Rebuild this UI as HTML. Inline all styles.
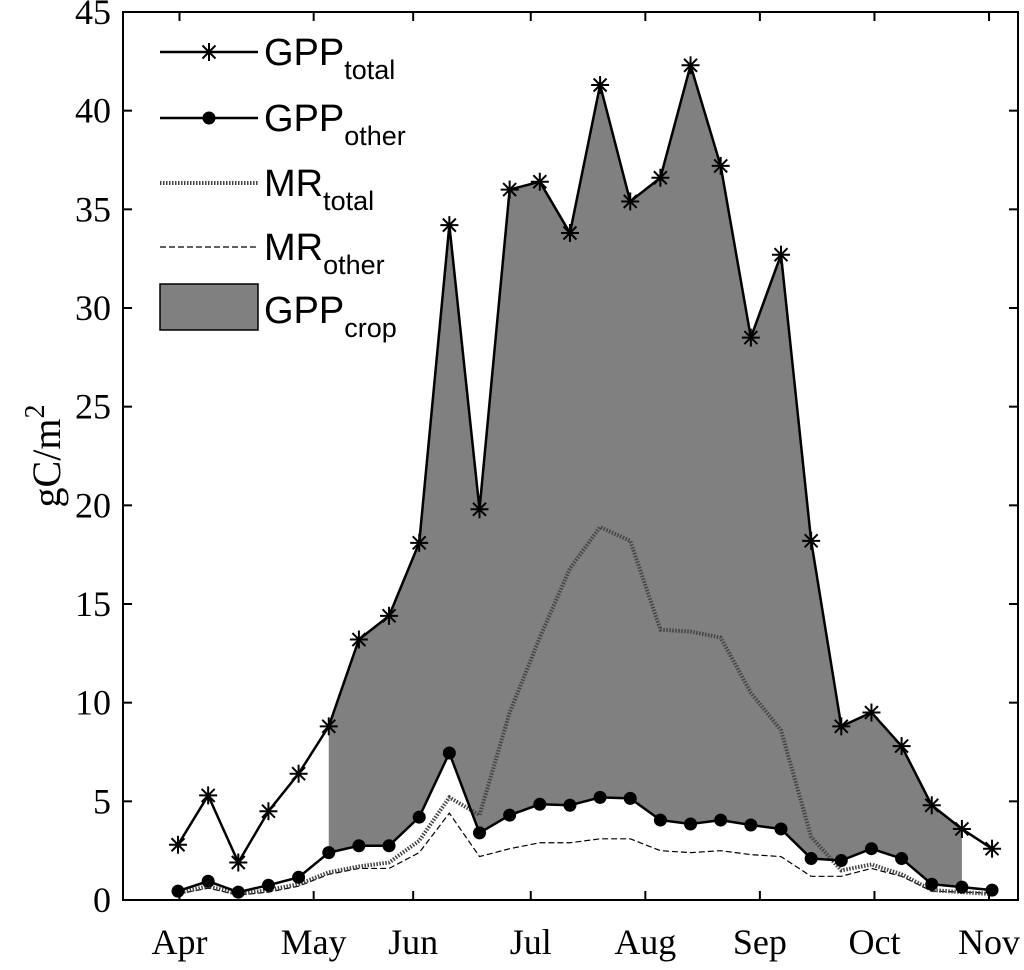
<!DOCTYPE html>
<html><head><meta charset="utf-8"><style>
body{margin:0;background:#fff}
svg text{font-family:"Liberation Serif",serif;fill:#000}
</style></head><body>
<svg id="chart" width="1024" height="965" xmlns="http://www.w3.org/2000/svg">
</svg>
<script>
const months=["Apr","May","Jun","Jul","Aug","Sep","Oct","Nov"];
const monthPos=[0.05,4.5,7.8,11.7,15.5,19.3,23.1,26.9];
const yTicks=[0,5,10,15,20,25,30,35,40,45];
const gppTotal=[2.8,5.3,1.9,4.5,6.4,8.8,13.2,14.4,18.1,34.2,19.8,36.0,36.4,33.8,41.3,35.4,36.6,42.3,37.2,28.5,32.7,18.2,8.8,9.5,7.8,4.8,3.6,2.6];
const gppOther=[0.45,0.95,0.4,0.75,1.15,2.4,2.75,2.75,4.2,7.45,3.4,4.3,4.85,4.8,5.2,5.15,4.05,3.85,4.05,3.8,3.6,2.1,2.0,2.6,2.1,0.8,0.65,0.5];
const mrTotal=[0.35,0.7,0.3,0.5,0.8,1.4,1.7,1.9,3.0,5.2,4.3,9.5,13.3,16.8,18.9,18.2,13.7,13.6,13.3,10.5,8.6,3.2,1.5,1.8,1.3,0.5,0.4,0.3];
const mrOther=[0.3,0.6,0.25,0.4,0.7,1.3,1.6,1.6,2.4,4.4,2.2,2.6,2.9,2.9,3.1,3.1,2.5,2.4,2.5,2.3,2.2,1.2,1.2,1.6,1.2,0.45,0.4,0.35];
const cropStart=5,cropEnd=26;
const L=123,R=1018,T=12,B=900;
const X=i=>178+30.15*i, Y=v=>B-(v/45)*(B-T);
const NS="http://www.w3.org/2000/svg",svg=document.getElementById('chart');
function mk(t,a,p){const e=document.createElementNS(NS,t);for(const k in a)e.setAttribute(k,a[k]);(p||svg).appendChild(e);return e;}
let pts=[];for(let i=cropStart;i<=cropEnd;i++)pts.push(X(i)+','+Y(gppTotal[i]));
for(let i=cropEnd;i>=cropStart;i--)pts.push(X(i)+','+Y(gppOther[i]));
const fill=mk('polygon',{points:pts.join(' '),fill:'#808080'});


function line(arr,attrs,name){const l=mk('polyline',Object.assign({points:arr.map((v,i)=>X(i)+','+Y(v)).join(' '),fill:'none'},attrs));

return l;}
line(mrOther,{stroke:'#000','stroke-width':1.2,'stroke-dasharray':'6,3'},'mr-other-line');
line(mrTotal,{stroke:'#444','stroke-width':4,'stroke-dasharray':'1.5,1.5'},'mr-total-line');
line(gppOther,{stroke:'#000','stroke-width':2.5},'gpp-other-line');
line(gppTotal,{stroke:'#000','stroke-width':2.5},'gpp-total-line');
function star(x,y,name,p){const g=mk('g',{stroke:'#000','stroke-width':2},p);


const r=9;mk('line',{x1:x-r,y1:y,x2:x+r,y2:y},g);mk('line',{x1:x,y1:y-r,x2:x,y2:y+r},g);
mk('line',{x1:x-6.5,y1:y-6.5,x2:x+6.5,y2:y+6.5},g);mk('line',{x1:x-6.5,y1:y+6.5,x2:x+6.5,y2:y-6.5},g);}
gppTotal.forEach((v,i)=>star(X(i),Y(v),'gpp-total-marker'));
gppOther.forEach((v,i)=>{const c=mk('circle',{cx:X(i),cy:Y(v),r:6.5,fill:'#000'});

});
const box=mk('rect',{x:L,y:T,width:R-L,height:B-T,fill:'none',stroke:'#000','stroke-width':2});


yTicks.forEach(v=>{const y=Y(v);mk('line',{x1:L,y1:y,x2:L+9,y2:y,stroke:'#000','stroke-width':2});mk('line',{x1:R,y1:y,x2:R-9,y2:y,stroke:'#000','stroke-width':2});
const t=mk('text',{x:L-12,y:y+12,'text-anchor':'end','font-size':36});t.textContent=v;

});
months.forEach((m,k)=>{const x=X(monthPos[k]);mk('line',{x1:x,y1:B,x2:x,y2:B-9,stroke:'#000','stroke-width':2});mk('line',{x1:x,y1:T,x2:x,y2:T+9,stroke:'#000','stroke-width':2});
const t=mk('text',{x:x,y:954,'text-anchor':'middle','font-size':36});t.textContent=m;

});
const yt=mk('text',{transform:'translate(60,456) rotate(-90)','text-anchor':'middle','font-size':40});
yt.innerHTML='gC/m<tspan dy="-16" font-size="28">2</tspan>';


const lg=mk('g',{});


function ltext(y,main,sub){const t=mk('text',{x:264,y:y+13,'font-size':38},lg);
t.innerHTML=main+'<tspan dy="14" font-size="27">'+sub+'</tspan>';t.style.fontFamily='"Liberation Sans",sans-serif';}
mk('line',{x1:160,y1:52,x2:258,y2:52,stroke:'#000','stroke-width':2.5},lg);
star(209,52,'legend-star',lg);ltext(52,'GPP','total');
mk('line',{x1:160,y1:118,x2:258,y2:118,stroke:'#000','stroke-width':2.5},lg);
mk('circle',{cx:209,cy:118,r:6.5,fill:'#000'},lg);ltext(118,'GPP','other');
mk('line',{x1:160,y1:183,x2:258,y2:183,stroke:'#444','stroke-width':4,'stroke-dasharray':'1.5,1.5'},lg);ltext(183,'MR','total');
mk('line',{x1:160,y1:247,x2:258,y2:247,stroke:'#000','stroke-width':1.2,'stroke-dasharray':'6,3'},lg);ltext(247,'MR','other');
mk('rect',{x:160,y:284,width:98,height:46,fill:'#808080',stroke:'#000','stroke-width':1.5},lg);ltext(310,'GPP','crop');
</script>
</body></html>
